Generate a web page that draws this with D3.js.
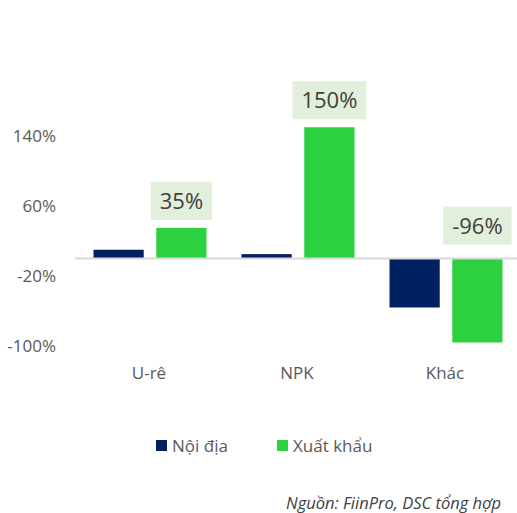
<!DOCTYPE html>
<html>
<head>
    <style>
        body { margin: 0; background: #fff; }
        text { font-family: "Open Sans", "Noto Sans", sans-serif; fill: #595959; }
        .tick text { font-size: 17px; }
        .cat text { font-size: 17px; }
        .lbl { font-size: 22px; fill: #404040; text-anchor: middle; }
        .legend text { font-size: 17px; }
        .source { font-size: 16.5px; font-style: italic; fill: #404040; text-anchor: end; }
    </style>
    <script src="https://d3js.org/d3.v7.min.js"></script>
</head>
<body>
    <svg width="517" height="513"></svg>
    <script>
        var categories = ["U-rê", "NPK", "Khác"];
        var seriesNames = ["Nội địa", "Xuất khẩu"];
        var noiDia = [10, 5, -56];
        var xuatKhau = [35, 150, -96];
        var yTicks = [-100, -20, 60, 140];
        var colors = ["#00205f", "#2bd13f"];

        var svg = d3.select("svg");

        var x = d3.scaleBand().domain(categories).range([76, 520]).paddingInner(0).paddingOuter(0);
        var xs = d3.scaleBand().domain(seriesNames).range([17.5, 130.5]).paddingInner(0.2);
        var y = d3.scaleLinear().domain([-100, 140]).range([346, 136]);

        // y axis labels (no line, no ticks)
        var yAxis = svg.append("g").attr("transform", "translate(56,0)")
            .call(d3.axisLeft(y).tickValues(yTicks).tickSize(0).tickPadding(0)
                .tickFormat(function(d){ return d + "%"; }));
        yAxis.select(".domain").remove();

        // bars
        var data = categories.map(function(c, i){
            return { cat: c, values: [noiDia[i], xuatKhau[i]] };
        });

        var groups = svg.selectAll(".grp").data(data).enter().append("g")
            .attr("class", "grp")
            .attr("transform", function(d){ return "translate(" + x(d.cat) + ",0)"; });

        groups.selectAll("rect").data(function(d){
                return d.values.map(function(v, j){ return { s: seriesNames[j], v: v, j: j }; });
            }).enter().append("rect")
            .attr("x", function(d){ return xs(d.s); })
            .attr("width", xs.bandwidth())
            .attr("y", function(d){ return y(Math.max(0, d.v)); })
            .attr("height", function(d){ return Math.abs(y(d.v) - y(0)); })
            .attr("fill", function(d){ return colors[d.j]; });

        // zero line
        svg.append("line")
            .attr("x1", 75).attr("x2", 517)
            .attr("y1", y(0)).attr("y2", y(0))
            .attr("stroke", "#d9d9d9").attr("stroke-width", 2);

        // data labels for Xuất khẩu
        var lbls = groups.append("g").attr("transform", function(d){
            var v = d.values[1];
            var cx = xs(seriesNames[1]) + xs.bandwidth() / 2;
            var bottom = v >= 0 ? y(v) - 8 : y(0) - 14;
            return "translate(" + cx + "," + bottom + ")";
        });
        lbls.append("text").attr("class", "lbl")
            .attr("y", -11)
            .text(function(d){ return d.values[1] + "%"; })
            .each(function(){
                var b = this.getBBox();
                d3.select(this.parentNode).insert("rect", "text")
                    .attr("x", b.x - 9).attr("width", b.width + 18)
                    .attr("y", -38).attr("height", 38)
                    .attr("fill", "#e2efda");
            });

        // category labels
        svg.append("g").attr("class", "cat").selectAll("text").data(categories).enter().append("text")
            .attr("x", function(d){ return x(d) + x.bandwidth() / 2 - 1; })
            .attr("y", 379)
            .attr("text-anchor", "middle")
            .text(function(d){ return d; });

        // legend
        var legend = svg.append("g").attr("class", "legend");
        var legX = [156, 277];
        seriesNames.forEach(function(s, i){
            var g = legend.append("g").attr("transform", "translate(" + legX[i] + ",440)");
            g.append("rect").attr("width", 11).attr("height", 11).attr("fill", colors[i]);
            g.append("text").attr("x", 16).attr("y", 12).text(s);
        });

        // source
        svg.append("text").attr("class", "source")
            .attr("x", 501).attr("y", 509)
            .text("Nguồn: FiinPro, DSC tổng hợp");
    </script>
</body>
</html>
